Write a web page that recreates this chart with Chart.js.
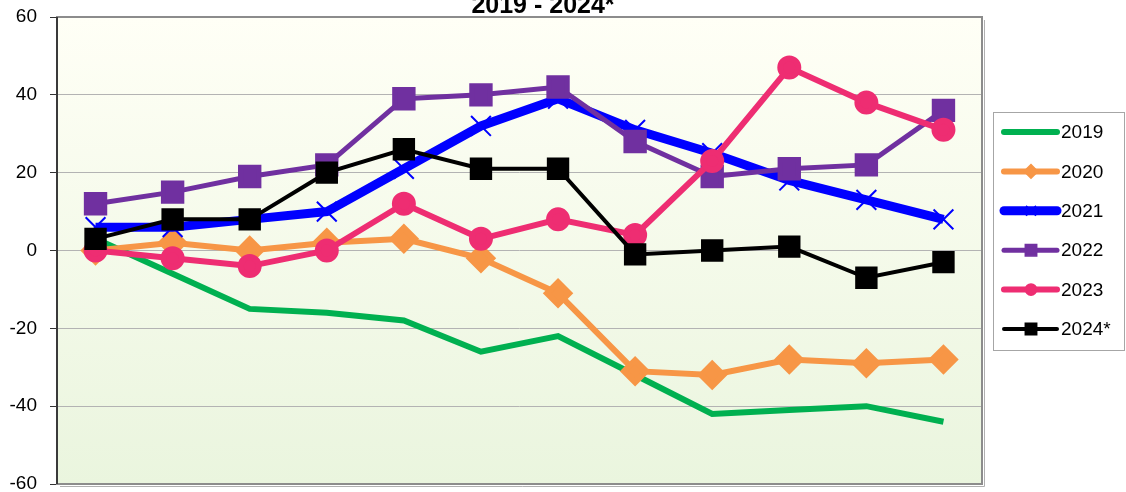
<!DOCTYPE html>
<html>
<head>
<meta charset="UTF-8">
<title>2019 - 2024*</title>
<script src="https://cdn.jsdelivr.net/npm/chart.js"></script>
<style>
  html, body { margin: 0; padding: 0; background: #fff; }
  #wrap { width: 1126px; height: 492px; }
</style>
</head>
<body>
<div id="wrap"><canvas id="c" width="1126" height="492"></canvas></div>
<script>
// data
const months = ['Jan', 'Feb', 'Mar', 'Apr', 'May', 'Jun', 'Jul', 'Aug', 'Sep', 'Oct', 'Nov', 'Dec'];
const v2019 = [3, -6, -15, -16, -18, -26, -22, -32, -42, -41, -40, -44];
const v2020 = [0, 2, 0, 2, 3, -2, -11, -31, -32, -28, -29, -28];
const v2021 = [6, 6, 8, 10, 21, 32, 39, 31, 25, 18, 13, 8];
const v2022 = [12, 15, 19, 22, 39, 40, 42, 28, 19, 21, 22, 36];
const v2023 = [0, -2, -4, 0, 12, 3, 8, 4, 23, 47, 38, 31];
const v2024 = [3, 8, 8, 20, 26, 21, 21, -1, 0, 1, -7, -3];
const yTicks = [-60, -40, -20, 0, 20, 40, 60];
const titleText = '2019 - 2024*';

const FONT = 'Arial, "Liberation Sans", sans-serif';

// plot background gradient + frame + title
const plotBg = {
    id: 'plotBg',
    beforeDraw(chart) {
        const { ctx, chartArea: a } = chart;
        const g = ctx.createLinearGradient(0, a.top, 0, a.bottom);
        g.addColorStop(0, '#fffff6');
        g.addColorStop(1, '#eaf5de');
        ctx.save();
        ctx.fillStyle = g;
        ctx.fillRect(a.left, a.top, a.right - a.left, a.bottom - a.top);
        ctx.restore();
    },
    afterDatasetsDraw(chart) {
        const { ctx, chartArea: a } = chart;
        ctx.save();
        // little shadow on right / bottom
        ctx.strokeStyle = '#b0b0b0';
        ctx.lineWidth = 1;
        ctx.beginPath();
        ctx.moveTo(a.right + 2.5, a.top + 3);
        ctx.lineTo(a.right + 2.5, a.bottom + 2.5);
        ctx.lineTo(a.left + 3, a.bottom + 2.5);
        ctx.stroke();
        ctx.strokeStyle = '#8c8c8c';
        ctx.lineWidth = 2;
        ctx.strokeRect(a.left, a.top, a.right - a.left, a.bottom - a.top);
        ctx.strokeStyle = '#3a3a3a';
        ctx.beginPath();
        ctx.moveTo(a.left, a.top);
        ctx.lineTo(a.left, a.bottom);
        ctx.stroke();
        // title, partly cut off at the top like the original
        ctx.fillStyle = '#000';
        ctx.font = 'bold 25px ' + FONT;
        ctx.textAlign = 'center';
        ctx.textBaseline = 'alphabetic';
        ctx.fillText(titleText, 543, 13);
        ctx.restore();
    }
};

// legend drawn like the original: line sample with marker in the middle
const sideLegend = {
    id: 'sideLegend',
    afterDraw(chart) {
        const { ctx } = chart;
        const box = { x: 993, y: 112, w: 131, h: 238 };
        ctx.save();
        ctx.fillStyle = '#fff';
        ctx.fillRect(box.x, box.y, box.w, box.h);
        ctx.strokeStyle = '#a6a6a6';
        ctx.lineWidth = 1;
        ctx.strokeRect(box.x + 0.5, box.y + 0.5, box.w, box.h);
        chart.data.datasets.forEach((ds, i) => {
            const y = 132 + i * 39.4;
            ctx.strokeStyle = ds.borderColor;
            ctx.lineWidth = ds.legendWidth;
            ctx.lineCap = 'round';
            ctx.beginPath();
            ctx.moveTo(1004, y);
            ctx.lineTo(1057, y);
            ctx.stroke();
            if (ds.pointStyle && ds.pointRadius > 0) {
                ctx.fillStyle = ds.borderColor;
                ctx.lineWidth = 1.5;
                ctx.lineCap = 'butt';
                Chart.helpers.drawPoint(ctx, {
                    pointStyle: ds.pointStyle,
                    radius: ds.legendRadius,
                    borderWidth: 1.5,
                    rotation: 0
                }, 1031, y);
            }
            ctx.fillStyle = '#000';
            ctx.font = '19px ' + FONT;
            ctx.textAlign = 'left';
            ctx.textBaseline = 'middle';
            ctx.fillText(ds.label, 1061, y + 1);
        });
        ctx.restore();
    }
};

function series(label, data, color, width, style, radius, order, extra) {
    return Object.assign({
        label: label,
        data: data,
        order: order,
        borderColor: color,
        backgroundColor: color,
        pointBackgroundColor: color,
        pointBorderColor: color,
        borderWidth: width,
        legendWidth: width,
        legendRadius: radius * 0.62,
        pointStyle: style,
        pointRadius: radius,
        pointHoverRadius: radius,
        tension: 0,
        fill: false
    }, extra || {});
}

// later years are painted on top, like the original
new Chart(document.getElementById('c'), {
    type: 'line',
    data: {
        labels: months,
        datasets: [
            series('2019', v2019, '#00b050', 6, false, 0, 5),
            series('2020', v2020, '#f79646', 6, 'rectRot', 11, 4),
            series('2021', v2021, '#0000ff', 9, 'crossRot', 14, 3, { pointBorderWidth: 2, legendRadius: 7 }),
            series('2022', v2022, '#7030a0', 5, 'rect', 13, 2),
            series('2023', v2023, '#ee2d72', 6, 'circle', 9, 1),
            series('2024*', v2024, '#000000', 4, 'rect', 13, 0)
        ]
    },
    options: {
        responsive: false,
        animation: false,
        layout: { autoPadding: false, padding: { left: 0, right: 144, top: 17, bottom: 8 } },
        plugins: {
            legend: { display: false },
            title: { display: false },
            tooltip: { enabled: false }
        },
        scales: {
            x: {
                display: false,
                offset: true
            },
            y: {
                min: -60,
                max: 60,
                afterBuildTicks(axis) { axis.ticks = yTicks.map(v => ({ value: v })); },
                afterFit(axis) {
                    axis.width = 57;
                    axis.paddingTop = 0;
                    axis.paddingBottom = 0;
                },
                grid: { color: '#b3b3b3', lineWidth: 1, tickLength: 7, tickColor: '#333' },
                border: { display: false },
                ticks: { color: '#000', font: { family: FONT, size: 19 }, padding: 13 }
            }
        }
    },
    plugins: [plotBg, sideLegend]
});
</script>
</body>
</html>
